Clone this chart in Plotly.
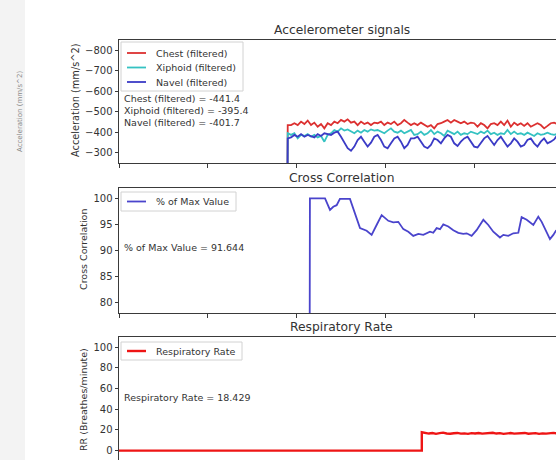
import plotly.graph_objects as go

# ---------------- data ----------------
# accelerometer recording (filtered), mm/s^2 ; sensor reads 0 before recording starts
acc_pre_t = [0, 189.5]
acc_pre_v = [0, 0]
acc_start = 190
acc_step = 3.75

chest = [-435, -435, -444, -435, -452, -440, -457, -435, -447, -427, -440, -419, -444, -435,
         -452, -444, -460, -452, -463, -447, -452, -435, -452, -440, -447, -435, -447, -444,
         -452, -435, -447, -440, -452, -435, -444, -460, -447, -435, -444,
         -435, -447, -435, -427, -435, -419, -440, -444, -452, -460, -447, -460, -452, -444,
         -452, -440, -447, -444, -427, -444, -435, -419, -440, -444, -435, -452, -435, -457,
         -427, -447, -435, -444, -431, -444, -427, -435, -444, -435, -419, -431, -444, -447,
         -440, -441]
xiphoid = [-395, -387, -395, -370, -387, -382, -391, -378, -387, -375, -382, -354, -387, -395,
           -411, -403, -419, -408, -414, -403, -395, -408, -398, -411, -403, -414, -408, -411,
           -403, -395, -408, -419, -403, -398, -408, -395, -403, -411, -387,
           -391, -403, -387, -395, -411, -391, -403, -395, -382, -408, -398, -391, -403, -387,
           -395, -391, -403, -398, -391, -403, -395, -408, -391, -398, -387, -395, -391, -411,
           -391, -403, -391, -395, -387, -398, -391, -382, -395, -387, -391, -398, -391, -387,
           -393, -395]
navel = [-370, -375, -387, -378, -391, -378, -387, -382, -375, -391, -382, -395, -391, -387,
         -398, -403, -378, -346, -322, -310, -330, -362, -378, -354, -330, -349, -378, -387,
         -362, -330, -322, -346, -370, -378, -354, -322, -338, -370, -370,
         -378, -354, -330, -322, -338, -370, -362, -346, -370, -387, -378, -346, -333, -354,
         -370, -378, -354, -330, -326, -346, -370, -382, -362, -338, -362, -378, -354, -330,
         -346, -370, -354, -330, -338, -362, -370, -346, -330, -354, -370, -346, -354, -365,
         -387, -400]
chest_value = -441.4
xiphoid_value = -395.4
navel_value = -401.7

# cross correlation (% of max value)
cc_t = [0, 214, 215, 232, 237.6, 241.3, 245.1, 248.8, 260.1, 265.7, 271.4, 278.9, 284.5,
        290.1, 295.8, 303.3, 308.9, 314.5, 320.2, 325.8, 331.4, 337.1, 342.7, 350.2, 353.9,
        357.7, 361.5, 365.2, 370.8, 376.5, 382.1, 387.7, 391.5, 397.1, 402.7, 410.3, 415.9,
        421.5, 429.0, 432.8, 438.4, 444.0, 449.7, 453.4, 459.1, 466.6, 472.2, 476.0, 481.6,
        485.3, 489.1, 492.1, 500]
cc_v = [0, 0, 100, 100, 97.8, 98.4, 98.7, 99.9, 99.9, 97.1, 94.3, 93.8, 93.0,
        94.9, 96.8, 95.7, 95.4, 95.5, 94.1, 93.6, 92.8, 93.2, 93.0, 93.6, 93.4,
        94.3, 94.1, 95.0, 94.6, 93.9, 93.4, 93.2, 93.3, 92.8, 93.9, 95.9, 94.9,
        93.6, 92.5, 93.0, 92.8, 93.3, 93.4, 96.4, 95.9, 94.9, 96.5, 95.5, 93.6,
        92.2, 93.0, 93.8, 94.5]
cc_value = 91.644

# respiratory rate (breaths/minute)
rr_pre_t = [0, 341]
rr_pre_v = [0, 0]
rr_start = 341
rr_step = 4
rr_v = [17.8, 17.2, 16.5, 17.0, 16.2, 16.9, 17.4, 16.6, 16.3, 16.8, 17.1, 16.4, 16.7, 16.2,
        16.9, 16.5, 17.0, 16.4, 16.8, 16.6, 17.3, 16.5, 16.9, 16.2, 16.7, 17.0, 16.4, 16.8,
        16.5, 17.1, 16.3, 16.6, 16.9, 16.2, 16.7, 16.4, 16.9, 17.2, 16.6, 16.8]
rr_value = 18.429

acc_ticks = [-800, -700, -600, -500, -400, -300]
cc_ticks = [80, 85, 90, 95, 100]
rr_ticks = [0, 20, 40, 60, 80, 100]
x_ticks = [0, 100, 200, 300, 400, 500]

# ---------------- layout helpers ----------------
W, H = 556, 460
ML, MR, MT, MB = 119, 0, 40, 0
PW, PH = W - ML - MR, H - MT - MB
def fx(px):
    return (px - ML) / PW
def fy(py):
    return (H - MB - py) / PH

X_MAX = PW / 0.888  # axis extends past the visible right edge

C_RED = "#dc3030"
C_CYAN = "#35c2c2"
C_BLUE = "#3b3bc6"
C_CC = "#4a44cc"
C_RR = "#ee1515"
C_TXT = "#333333"
C_AX = "#3a3a3a"
FONT = "DejaVu Sans"

rr_t = [rr_start + i * rr_step for i in range(len(rr_v))]

series_acc = [("Chest (filtered)", chest, C_RED),
              ("Xiphoid (filtered)", xiphoid, C_CYAN),
              ("Navel (filtered)", navel, C_BLUE)]

fig = go.Figure()
for name, vals, col in series_acc:
    t = [acc_start + i * acc_step for i in range(len(vals))]
    fig.add_trace(go.Scatter(x=acc_pre_t + t, y=acc_pre_v + vals, mode="lines",
                             line=dict(color=col, width=1.8), name=name,
                             xaxis="x", yaxis="y", showlegend=False))
fig.add_trace(go.Scatter(x=cc_t, y=cc_v, mode="lines", line=dict(color=C_CC, width=1.8),
                         name="% of Max Value", xaxis="x2", yaxis="y2", showlegend=False))
fig.add_trace(go.Scatter(x=rr_pre_t + rr_t, y=rr_pre_v + rr_v, mode="lines",
                         line=dict(color=C_RR, width=2.4), name="Respiratory Rate",
                         xaxis="x3", yaxis="y3", showlegend=False))

def xax(anchor, side="bottom", ticks="outside", mirror=True):
    return dict(domain=[0, 1], anchor=anchor, range=[0, X_MAX], side=side,
                showline=True, mirror=mirror, linecolor=C_AX, linewidth=1,
                ticks=ticks, ticklen=3.5, tickwidth=1, tickcolor=C_AX,
                tickvals=x_ticks, showticklabels=False, showgrid=False, zeroline=False)

def yax(anchor, dom, rng, tv):
    return dict(domain=dom, anchor=anchor, range=rng, showline=True, mirror=False,
                linecolor=C_AX, linewidth=1, ticks="outside", ticklen=3.5, tickwidth=1,
                tickcolor=C_AX, tickvals=tv, showgrid=False, zeroline=False,
                tickfont=dict(size=10, color=C_TXT, family=FONT))

fig.update_layout(
    width=W, height=H, margin=dict(l=ML, r=MR, t=MT, b=MB, pad=0),
    paper_bgcolor="white", plot_bgcolor="white",
    font=dict(family=FONT, size=10, color=C_TXT),
    showlegend=False,
    xaxis=xax("y"),
    xaxis2=xax("y2"),
    xaxis3=xax("y3", side="top", ticks="", mirror=False),
    yaxis=yax("x", [fy(163), fy(40)], [-250, -850], acc_ticks),
    yaxis2=yax("x2", [fy(313), fy(188)], [78, 102], cc_ticks),
    yaxis3=yax("x3", [0, fy(337)], [-9.1, 110], rr_ticks),
)

ann = []
shapes = []
def text(s, px, py, size=9.5, angle=0, xanchor="left", color=C_TXT):
    ann.append(dict(text=s, x=fx(px), y=fy(py), xref="paper", yref="paper",
                    xanchor=xanchor, yanchor="middle", showarrow=False, textangle=angle,
                    font=dict(size=size, color=color, family=FONT)))

def legend_box(entries, px0, py0, px1, py1, row_y):
    shapes.append(dict(type="rect", xref="paper", yref="paper", x0=fx(px0), x1=fx(px1),
                       y0=fy(py1), y1=fy(py0), line=dict(color="#d2d2d2", width=1),
                       fillcolor="rgba(255,255,255,0.85)", layer="above"))
    for (name, col, lw), yy in zip(entries, row_y):
        shapes.append(dict(type="line", xref="paper", yref="paper", x0=fx(px0 + 6),
                           x1=fx(px0 + 25), y0=fy(yy), y1=fy(yy),
                           line=dict(color=col, width=lw), layer="above"))
        text(name, px0 + 33, yy)

# faded window behind on the left
shapes.append(dict(type="rect", xref="paper", yref="paper", x0=fx(0), x1=fx(25),
                   y0=fy(460), y1=fy(0), fillcolor="#f3f3f3", line=dict(width=0), layer="below"))
text("Acceleration (mm/s^2)", 20, 112, size=7, angle=-90, xanchor="center", color="#8a8a8a")

# subplot titles
text("Accelerometer signals", 341.5, 30, size=12.3, xanchor="center")
text("Cross Correlation", 341.5, 178, size=12.3, xanchor="center")
text("Respiratory Rate", 341.5, 327, size=12.3, xanchor="center")
# y axis titles
text("Acceleration (mm/s^2)", 75, 100, size=9.8, angle=-90, xanchor="center")
text("Cross Correlation", 83, 250, size=9.5, angle=-90, xanchor="center")
text("RR (Breathes/minute)", 83, 400, size=9.5, angle=-90, xanchor="center")

# legends
legend_box([(n, c, 1.8) for n, _, c in series_acc], 121, 42, 243, 91, [53, 67.5, 82])
legend_box([("% of Max Value", C_CC, 1.8)], 121, 192, 236, 211, [201.5])
legend_box([("Respiratory Rate", C_RR, 2.4)], 121, 342, 242, 360, [351])

# current value readouts
text(f"Chest (filtered) = {chest_value}", 122, 99)
text(f"Xiphoid (filtered) = {xiphoid_value}", 122, 111)
text(f"Navel (filtered) = {navel_value}", 122, 123)
text(f"% of Max Value = {cc_value}", 122, 247)
text(f"Respiratory Rate = {rr_value}", 122, 397)

fig.update_layout(annotations=ann, shapes=shapes)

fig.write_html("out.html", config={"displayModeBar": False},
               post_script="document.body.style.margin='0';")
